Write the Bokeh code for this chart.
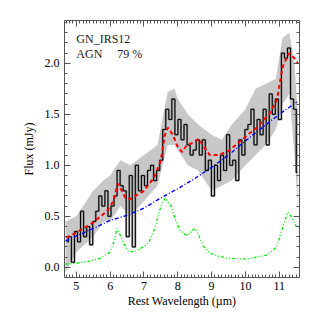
from bokeh.plotting import figure
from bokeh.models import Range1d, LinearAxis, PrintfTickFormatter, FixedTicker, Label
from bokeh.embed import file_html
from bokeh.resources import INLINE

# Observed spectrum (bin centres, flux in mJy)
wave = [4.72, 4.81, 4.90, 4.99, 5.08, 5.17, 5.26, 5.35, 5.44, 5.53, 5.62, 5.71, 5.80, 5.89,
        5.98, 6.07, 6.16, 6.25, 6.34, 6.43, 6.52, 6.61, 6.70, 6.79, 6.88, 6.97, 7.06, 7.15,
        7.24, 7.33, 7.42, 7.51, 7.60, 7.69, 7.78, 7.87, 7.96, 8.05, 8.14, 8.23, 8.32, 8.41,
        8.50, 8.59, 8.68, 8.77, 8.86, 8.95, 9.04, 9.13, 9.22, 9.31, 9.40, 9.49, 9.58, 9.67,
        9.76, 9.85, 9.94, 10.03, 10.12, 10.21, 10.30, 10.39, 10.48, 10.57, 10.66, 10.75,
        10.84, 10.93, 11.02, 11.11, 11.20, 11.29, 11.38, 11.47, 11.54]
flux = [0.25, 0.30, 0.05, 0.35, 0.25, 0.55, 0.30, 0.40, 0.22, 0.45, 0.55, 0.70, 0.60, 0.75,
        0.50, 0.60, 0.70, 0.95, 0.80, 0.75, 0.30, 0.90, 0.20, 1.00, 0.75, 0.90, 0.80, 0.95,
        1.00, 0.85, 0.95, 1.05, 1.35, 1.55, 1.45, 1.65, 1.30, 1.45, 1.25, 1.40, 1.20, 1.10,
        1.15, 1.25, 1.10, 1.25, 0.95, 1.05, 0.70, 1.00, 0.85, 1.10, 0.95, 1.30, 1.00, 1.05,
        0.85, 1.25, 1.10, 1.35, 1.40, 1.55, 1.20, 1.45, 1.30, 1.55, 1.20, 1.70,
        1.50, 1.65, 1.45, 2.10, 2.05, 2.15, 1.65, 1.55, 0.93]

# Uncertainty envelope
band_wave = [4.68, 5.0, 5.5, 5.8, 6.0, 6.3, 6.6, 7.0, 7.4, 7.7, 7.9, 8.0, 8.3, 8.6, 9.0, 9.3,
             9.6, 10.0, 10.3, 10.6, 10.9, 11.1, 11.3, 11.45, 11.55]
band_low = [-0.05, 0.15, 0.30, 0.45, 0.45, 0.60, 0.50, 0.65, 0.80, 1.20, 1.20, 1.15, 1.00, 0.95,
            0.75, 0.80, 0.85, 1.00, 1.10, 1.20, 1.35, 1.60, 1.70, 1.10, 0.60]
band_high = [0.45, 0.50, 0.75, 0.85, 0.90, 1.05, 1.00, 1.10, 1.20, 1.72, 1.75, 1.65, 1.50, 1.40,
             1.30, 1.25, 1.40, 1.55, 1.75, 1.80, 1.85, 2.25, 2.30, 2.00, 1.50]

# Total model (red)
model_wave = [4.70, 5.0, 5.5, 5.9, 6.1, 6.22, 6.3, 6.45, 6.6, 7.0, 7.3, 7.5, 7.62, 7.71, 7.85,
              8.0, 8.13, 8.27, 8.45, 8.62, 8.8, 8.95, 9.2, 9.5, 9.75, 10.0, 10.34, 10.72,
              10.93, 11.1, 11.25, 11.31, 11.45, 11.55]
model_flux = [0.29, 0.34, 0.44, 0.55, 0.65, 0.82, 0.78, 0.68, 0.67, 0.75, 0.88, 1.05, 1.30,
              1.37, 1.30, 1.18, 1.13, 1.20, 1.22, 1.26, 1.17, 1.10, 1.10, 1.14, 1.21, 1.28,
              1.37, 1.51, 1.64, 1.96, 2.08, 2.10, 2.05, 2.00]

# AGN continuum (blue)
agn_wave = [4.68, 5.5, 6.0, 6.5, 7.0, 7.5, 8.0, 8.5, 9.0, 9.5, 10.0, 10.5, 11.0, 11.52]
agn_flux = [0.26, 0.38, 0.46, 0.51, 0.58, 0.68, 0.77, 0.87, 0.98, 1.10, 1.24, 1.37, 1.50, 1.62]

# PAH / starburst component (green)
pah_wave = [4.68, 5.0, 5.4, 5.71, 6.0, 6.12, 6.2, 6.28, 6.39, 6.53, 6.7, 6.98, 7.15, 7.33,
            7.5, 7.63, 7.8, 7.95, 8.07, 8.27, 8.42, 8.51, 8.6, 8.75, 8.95, 9.2, 9.45, 10.04,
            10.63, 10.93, 11.1, 11.25, 11.35, 11.52]
pah_flux = [0.03, 0.04, 0.06, 0.09, 0.15, 0.26, 0.38, 0.33, 0.24, 0.16, 0.15, 0.20, 0.25,
            0.39, 0.60, 0.68, 0.60, 0.45, 0.36, 0.31, 0.36, 0.38, 0.33, 0.21, 0.14, 0.11,
            0.09, 0.08, 0.12, 0.20, 0.39, 0.54, 0.50, 0.39]

x_ticks = [5, 6, 7, 8, 9, 10, 11]
y_ticks = [0.0, 0.5, 1.0, 1.5, 2.0]
x_minor = [v / 10 for v in range(47, 116)]
y_minor = [v / 10 for v in range(-1, 25)]

FONT = "Liberation Serif"
AXC = "#555555"

p = figure(frame_width=235, frame_height=257, output_backend="svg", toolbar_location=None,
           x_range=Range1d(4.65, 11.6), y_range=Range1d(-0.1, 2.42),
           min_border_left=64, min_border_right=4, min_border_top=20, min_border_bottom=26)
p.xgrid.visible = False
p.ygrid.visible = False
p.outline_line_color = None
p.background_fill_color = "white"

p.varea(x=band_wave, y1=band_low, y2=band_high, fill_color="#c8c8c8", fill_alpha=1.0)
p.step(wave, flux, mode="center", line_color="#8a8a8a", line_width=2.0)
p.step(wave, flux, mode="center", line_color="black", line_width=1)
p.line(pah_wave, pah_flux, line_color="#00ee00", line_width=1.3, line_dash="3 2 1 2 1 2")
p.line(agn_wave, agn_flux, line_color="#0000ff", line_width=1.4, line_dash="4 2 1 2")
p.line(model_wave, model_flux, line_color="#ff0000", line_width=2, line_dash="4 3")

def style(ax):
    ax.axis_line_color = AXC
    ax.major_tick_line_color = AXC
    ax.minor_tick_line_color = AXC
    ax.major_tick_in = 6
    ax.major_tick_out = 0
    ax.minor_tick_in = 3
    ax.minor_tick_out = 0
    ax.major_label_text_font = FONT
    ax.major_label_text_font_size = "12px"
    ax.major_label_text_color = "black"
    ax.axis_label_text_font = FONT
    ax.axis_label_text_font_size = "12px"
    ax.axis_label_text_font_style = "normal"
    ax.axis_label_text_color = "black"

xa = p.xaxis[0]
xa.ticker = FixedTicker(ticks=x_ticks, minor_ticks=x_minor)
style(xa)
xa.axis_label = "Rest Wavelength (\u00b5m)"
xa.major_label_standoff = 4
xa.axis_label_standoff = 1

ya = p.yaxis[0]
ya.ticker = FixedTicker(ticks=y_ticks, minor_ticks=y_minor)
ya.formatter = PrintfTickFormatter(format="%.1f")
style(ya)
ya.axis_label = "Flux (mJy)"
ya.major_label_standoff = 5
ya.axis_label_standoff = 6

top = LinearAxis(ticker=FixedTicker(ticks=x_ticks, minor_ticks=x_minor),
                 major_label_overrides={t: "" for t in x_ticks})
style(top)
top.major_label_standoff = 0
p.add_layout(top, "above")
right = LinearAxis(ticker=FixedTicker(ticks=y_ticks, minor_ticks=y_minor),
                   major_label_overrides={t: "" for t in y_ticks})
style(right)
right.major_label_standoff = 0
p.add_layout(right, "right")

p.add_layout(Label(x=5.0, y=2.235, text="GN_IRS12", text_font=FONT, text_font_size="12px",
                   text_color="#222222", text_baseline="middle"))
p.add_layout(Label(x=5.0, y=2.09, text="AGN", text_font=FONT, text_font_size="12px",
                   text_color="#222222", text_baseline="middle"))
p.add_layout(Label(x=6.21, y=2.09, text="79 %", text_font=FONT, text_font_size="12px",
                   text_color="#222222", text_baseline="middle"))

open("out.html", "w").write(file_html(p, INLINE))
